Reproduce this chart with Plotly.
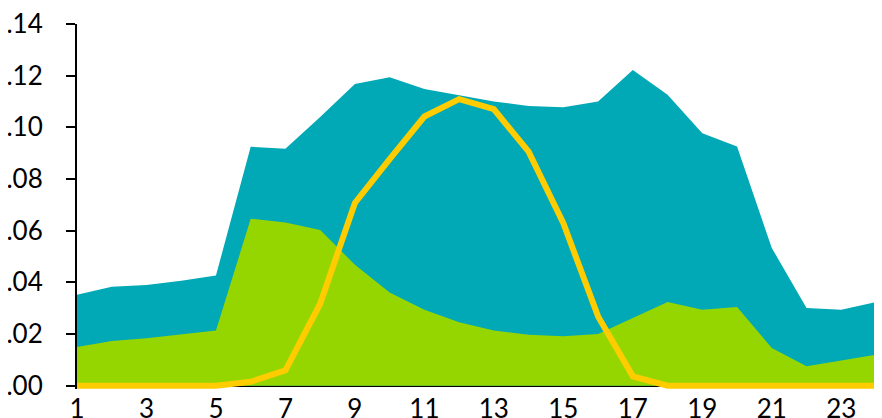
import plotly.graph_objects as go

hours = list(range(1, 25))
total = [0.0352, 0.0383, 0.0390, 0.0406, 0.0426, 0.0925, 0.0917, 0.1040, 0.1168, 0.1194,
         0.1148, 0.1123, 0.1100, 0.1083, 0.1078, 0.1100, 0.1222, 0.1126, 0.0977, 0.0926,
         0.0533, 0.0301, 0.0294, 0.0324]
lower = [0.0150, 0.0173, 0.0183, 0.0197, 0.0213, 0.0646, 0.0632, 0.0603, 0.0468, 0.0361,
         0.0294, 0.0245, 0.0213, 0.0197, 0.0191, 0.0200, 0.0262, 0.0324, 0.0294, 0.0304,
         0.0146, 0.0075, 0.0097, 0.0120]
solar = [0.0, 0.0, 0.0, 0.0, 0.0, 0.0015, 0.0059, 0.0317, 0.0707, 0.0877,
         0.1042, 0.1109, 0.1070, 0.0906, 0.0629, 0.0268, 0.0036, 0.0, 0.0, 0.0,
         0.0, 0.0, 0.0, 0.0]
xticks = list(range(1, 24, 2))
yticks = [0.0, 0.02, 0.04, 0.06, 0.08, 0.10, 0.12, 0.14]

TEAL = "#00A9B5"
GREEN = "#96D600"
YELLOW = "#FFCC00"

fig = go.Figure()
fig.add_trace(go.Scatter(x=hours, y=total, mode="lines", fill="tozeroy",
                         fillcolor=TEAL, line=dict(width=0, color=TEAL), showlegend=False))
fig.add_trace(go.Scatter(x=hours, y=lower, mode="lines", fill="tozeroy",
                         fillcolor=GREEN, line=dict(width=0, color=GREEN), showlegend=False))
fig.add_trace(go.Scatter(x=hours, y=solar, mode="lines",
                         line=dict(width=6, color=YELLOW), showlegend=False))

fig.update_layout(
    width=874, height=410,
    margin=dict(l=69, r=6, t=16, b=28.5),
    paper_bgcolor="white", plot_bgcolor="white",
    font=dict(family="Lato, Open Sans, sans-serif", size=26, color="black"),
    showlegend=False,
)
fig.update_xaxes(range=[1, 24], tickvals=xticks, ticktext=[str(v) for v in xticks],
                 showgrid=False, zeroline=False, showline=False, ticks="",
                 ticklabelstandoff=2, automargin=False, ticklabeloverflow="allow")
fig.update_yaxes(range=[-0.0013, 0.14], tickvals=yticks,
                 ticktext=[f"{v:.2f}" for v in yticks],
                 showgrid=False, showline=True, linecolor="black", linewidth=2,
                 zeroline=True, zerolinecolor="black", zerolinewidth=2.5,
                 ticks="outside", ticklen=9, tickwidth=2, tickcolor="black",
                 ticklabelstandoff=18, automargin=False, ticklabeloverflow="allow")

fig.write_html("out.html")
